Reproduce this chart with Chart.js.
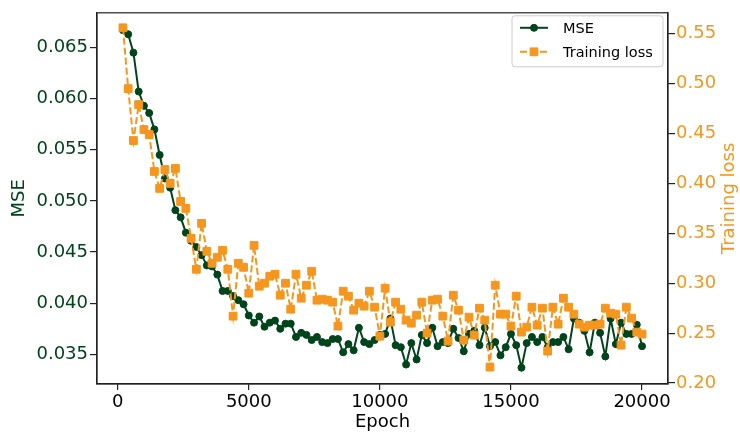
<!DOCTYPE html>
<html>
<head>
<meta charset="utf-8">
<script src="https://cdn.jsdelivr.net/npm/chart.js@4.4.0/dist/chart.umd.min.js"></script>
<style>
body { margin: 0; background: #fff; }
</style>
</head>
<body>
<canvas id="lossChart" width="740" height="437"></canvas>
<script>
var epochs = [200, 400, 600, 800, 1000, 1200, 1400, 1600, 1800, 2000,
    2200, 2400, 2600, 2800, 3000, 3200, 3400, 3600, 3800, 4000,
    4200, 4400, 4600, 4800, 5000, 5200, 5400, 5600, 5800, 6000,
    6200, 6400, 6600, 6800, 7000, 7200, 7400, 7600, 7800, 8000,
    8200, 8400, 8600, 8800, 9000, 9200, 9400, 9600, 9800, 10000,
    10200, 10400, 10600, 10800, 11000, 11200, 11400, 11600, 11800, 12000,
    12200, 12400, 12600, 12800, 13000, 13200, 13400, 13600, 13800, 14000,
    14200, 14400, 14600, 14800, 15000, 15200, 15400, 15600, 15800, 16000,
    16200, 16400, 16600, 16800, 17000, 17200, 17400, 17600, 17800, 18000,
    18200, 18400, 18600, 18800, 19000, 19200, 19400, 19600, 19800, 20000];

var mse = [0.0667, 0.0663, 0.0645, 0.0607, 0.0593, 0.0586, 0.0570, 0.0545, 0.0522, 0.0513,
    0.0491, 0.0484, 0.0469, 0.0461, 0.0455, 0.0447, 0.0437, 0.0436, 0.0428, 0.0412,
    0.0412, 0.0407, 0.0403, 0.0399, 0.0388, 0.0381, 0.0387, 0.0377, 0.0381, 0.0383,
    0.0375, 0.0380, 0.0380, 0.0367, 0.0371, 0.0369, 0.0364, 0.0367, 0.0362, 0.0361,
    0.0365, 0.0365, 0.0352, 0.0360, 0.0354, 0.0376, 0.0362, 0.0360, 0.0364, 0.0369,
    0.0370, 0.0385, 0.0359, 0.0357, 0.0340, 0.0361, 0.0345, 0.0369, 0.0361, 0.0376,
    0.0358, 0.0362, 0.0361, 0.0375, 0.0366, 0.0353, 0.0370, 0.0373, 0.0359, 0.0376,
    0.0358, 0.0362, 0.0349, 0.0357, 0.0370, 0.0359, 0.0337, 0.0361, 0.0367, 0.0362,
    0.0367, 0.0357, 0.0362, 0.0362, 0.0367, 0.0355, 0.0385, 0.0381, 0.0373, 0.0352,
    0.0381, 0.0371, 0.0348, 0.0385, 0.0360, 0.0381, 0.0370, 0.0370, 0.0379, 0.0358];

var trainingLoss = [0.556, 0.495, 0.443, 0.479, 0.454, 0.449, 0.412, 0.395, 0.414, 0.400,
    0.415, 0.382, 0.375, 0.345, 0.314, 0.360, 0.332, 0.320, 0.326, 0.333,
    0.314, 0.267, 0.320, 0.316, 0.290, 0.338, 0.297, 0.300, 0.307, 0.309,
    0.288, 0.300, 0.274, 0.309, 0.285, 0.298, 0.312, 0.283, 0.284, 0.283,
    0.281, 0.257, 0.292, 0.287, 0.273, 0.280, 0.277, 0.292, 0.276, 0.247,
    0.295, 0.261, 0.281, 0.274, 0.263, 0.260, 0.268, 0.281, 0.250, 0.283,
    0.284, 0.267, 0.242, 0.288, 0.273, 0.243, 0.266, 0.248, 0.275, 0.263,
    0.216, 0.298, 0.269, 0.269, 0.257, 0.287, 0.251, 0.256, 0.276, 0.258,
    0.275, 0.232, 0.276, 0.259, 0.285, 0.276, 0.269, 0.259, 0.256, 0.258,
    0.258, 0.259, 0.275, 0.270, 0.269, 0.238, 0.276, 0.265, 0.251, 0.249];

var epochTicks = [0, 5000, 10000, 15000, 20000];
var mseTicks = [0.035, 0.040, 0.045, 0.050, 0.055, 0.060, 0.065];
var lossTicks = [0.20, 0.25, 0.30, 0.35, 0.40, 0.45, 0.50, 0.55];

var green = '#00441b';
var orange = '#f5961e';
var axisColor = '#222222';

Chart.defaults.font.family = '"DejaVu Sans", sans-serif';
Chart.defaults.font.size = 18;
Chart.defaults.color = '#000';

// frame on all four sides, right axis title (bottom-to-top) and legend box
var frameAndLegend = {
    id: 'frameAndLegend',
    afterDraw: function(chart) {
        var ctx = chart.ctx;
        var area = chart.chartArea;
        ctx.save();
        ctx.strokeStyle = axisColor;
        ctx.lineWidth = 1.2;
        ctx.strokeRect(area.left, area.top, area.right - area.left, area.bottom - area.top);

        // right axis title, reads upward like the left one
        ctx.save();
        ctx.translate(chart.width - 11, (area.top + area.bottom) / 2);
        ctx.rotate(-Math.PI / 2);
        ctx.fillStyle = orange;
        ctx.font = '18px "DejaVu Sans"';
        ctx.textAlign = 'center';
        ctx.textBaseline = 'middle';
        ctx.fillText('Training loss', 0, 0);
        ctx.restore();

        var x0 = area.right - 156, y0 = area.top + 3, w = 151, h = 51;
        ctx.beginPath();
        ctx.roundRect(x0, y0, w, h, 3);
        ctx.fillStyle = 'rgba(255,255,255,0.8)';
        ctx.fill();
        ctx.strokeStyle = '#cccccc';
        ctx.lineWidth = 1;
        ctx.stroke();

        chart.data.datasets.forEach(function(ds, k) {
            var yy = y0 + 12 + k * 24;
            ctx.strokeStyle = ds.borderColor;
            ctx.lineWidth = ds.borderWidth;
            ctx.setLineDash(ds.borderDash || []);
            ctx.beginPath();
            ctx.moveTo(x0 + 8, yy);
            ctx.lineTo(x0 + 36, yy);
            ctx.stroke();
            ctx.setLineDash([]);
            ctx.fillStyle = ds.backgroundColor;
            ctx.strokeStyle = ds.borderColor;
            ctx.lineWidth = 1;
            Chart.helpers.drawPoint(ctx, {pointStyle: ds.pointStyle, radius: ds.pointRadius, borderWidth: 1, rotation: 0}, x0 + 22, yy);
            ctx.fillStyle = '#000';
            ctx.font = '14.5px "DejaVu Sans"';
            ctx.textAlign = 'left';
            ctx.textBaseline = 'middle';
            ctx.fillText(ds.label, x0 + 51, yy + 1);
        });
        ctx.restore();
    }
};

var ctx = document.getElementById('lossChart').getContext('2d');
var lossChart = new Chart(ctx, {
    type: 'line',
    data: {
        datasets: [{
            label: 'MSE',
            data: epochs.map(function(e, i) { return {x: e, y: mse[i]}; }),
            yAxisID: 'y',
            borderColor: green,
            backgroundColor: green,
            borderWidth: 2,
            pointStyle: 'circle',
            pointRadius: 3.5,
            pointBorderWidth: 1,
            fill: false,
            order: 2
        }, {
            label: 'Training loss',
            data: epochs.map(function(e, i) { return {x: e, y: trainingLoss[i]}; }),
            yAxisID: 'y1',
            borderColor: orange,
            backgroundColor: orange,
            borderWidth: 2,
            borderDash: [7, 3],
            pointStyle: 'rect',
            pointRadius: 5.5,
            pointBorderWidth: 1,
            fill: false,
            order: 1
        }]
    },
    options: {
        responsive: false,
        animation: false,
        devicePixelRatio: 1,
        layout: {
            padding: {top: 7, left: 0, right: 0, bottom: 0}
        },
        scales: {
            x: {
                type: 'linear',
                min: -790,
                max: 20990,
                afterBuildTicks: function(scale) {
                    scale.ticks = epochTicks.map(function(v) { return {value: v}; });
                },
                afterFit: function(scale) { scale.height = 53; },
                ticks: {
                    color: '#000',
                    padding: 2,
                    maxRotation: 0,
                    autoSkip: false,
                    callback: function(v) { return String(v); }
                },
                grid: {
                    drawOnChartArea: false,
                    drawTicks: true,
                    tickLength: 6,
                    color: axisColor,
                    lineWidth: 1.2
                },
                border: {color: axisColor, width: 1.2},
                title: {
                    display: true,
                    text: 'Epoch',
                    color: '#000',
                    padding: {top: 0, bottom: 4}
                }
            },
            y: {
                position: 'left',
                min: 0.0321,
                max: 0.0684,
                afterBuildTicks: function(scale) {
                    scale.ticks = mseTicks.map(function(v) { return {value: v}; });
                },
                afterFit: function(scale) { scale.width = 97; },
                ticks: {
                    color: green,
                    padding: 2,
                    callback: function(v) { return v.toFixed(3); }
                },
                grid: {
                    drawOnChartArea: false,
                    drawTicks: true,
                    tickLength: 7,
                    color: axisColor,
                    lineWidth: 1.2
                },
                border: {color: axisColor, width: 1.2},
                title: {
                    display: true,
                    text: 'MSE',
                    color: green,
                    padding: {top: 9, bottom: 0}
                }
            },
            y1: {
                position: 'right',
                min: 0.199,
                max: 0.571,
                afterBuildTicks: function(scale) {
                    scale.ticks = lossTicks.map(function(v) { return {value: v}; });
                },
                afterFit: function(scale) { scale.width = 72; },
                ticks: {
                    color: orange,
                    padding: 1,
                    callback: function(v) { return v.toFixed(2); }
                },
                grid: {
                    drawOnChartArea: false,
                    drawTicks: true,
                    tickLength: 7,
                    color: axisColor,
                    lineWidth: 1.2
                },
                border: {color: axisColor, width: 1.2},
                title: {display: false}
            }
        },
        plugins: {
            legend: {display: false},
            tooltip: {enabled: false}
        }
    },
    plugins: [frameAndLegend]
});
</script>
</body>
</html>
